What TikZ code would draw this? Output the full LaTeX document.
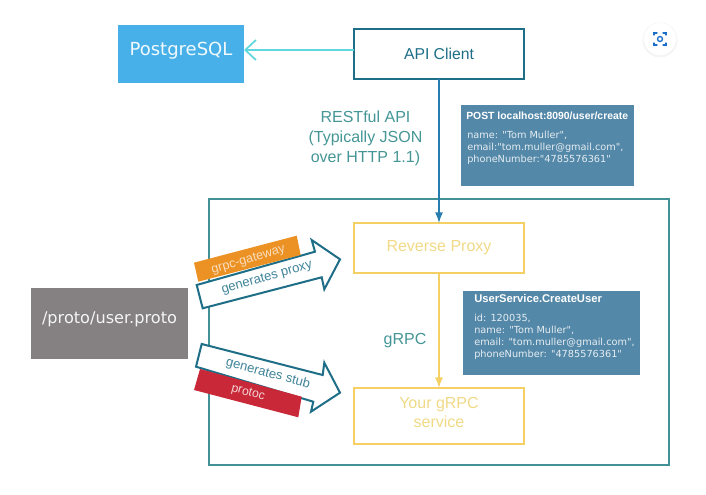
\documentclass[tikz,border=0pt]{standalone}
\usepackage{fontspec}
\setmainfont{Liberation Sans}
\newfontfamily\boxfont{DejaVu Sans}
\usetikzlibrary{positioning,arrows.meta,calc}
\definecolor{frame}{RGB}{30,110,135}
\definecolor{outline}{RGB}{65,145,150}
\definecolor{teal}{RGB}{70,150,150}
\definecolor{sky}{RGB}{72,176,232}
\definecolor{aqua}{RGB}{95,215,220}
\definecolor{link}{RGB}{40,125,175}
\definecolor{gold}{RGB}{244,208,100}
\definecolor{paleGold}{RGB}{240,218,135}
\definecolor{steel}{RGB}{84,136,168}
\definecolor{slate}{RGB}{133,128,129}
\definecolor{amber}{RGB}{236,145,35}
\definecolor{crimson}{RGB}{200,40,55}
\definecolor{camera}{RGB}{25,110,200}
\tikzset{
    pxbox/.style n args={2}{minimum width=#1*0.75pt,minimum height=#2*0.75pt,inner sep=0pt,outer sep=0pt},
    service/.style={draw=gold,line width=1.5pt},
    servicetext/.style={text=paleGold,font=\fontsize{12}{14.25}\selectfont,align=center},
    client/.style={draw=frame,line width=1.5pt,text=frame,font=\fontsize{11.8}{14}\selectfont},
    infobox/.style={fill=steel},
    infotext/.style={text=white!85!steel,font=\boxfont\fontsize{7.3}{9.2}\selectfont,align=left,anchor=north west,inner sep=0pt},
    infotitle/.style={text=white,font=\bfseries\fontsize{7.8}{9}\selectfont,anchor=north west,inner sep=0pt},
    genarrow/.style={draw=frame,fill=white,line width=1.5pt,line join=miter},
    arrowtext/.style={text=frame!85!white,inner sep=0pt,font=\fontsize{9.8}{11}\selectfont},
    tagtext/.style={inner sep=0pt,font=\fontsize{9.2}{11}\selectfont},
}
\begin{document}
\begin{tikzpicture}[x=0.75pt,y=-0.75pt]
    \useasboundingbox (0,0) rectangle (706,495);
    \fill[white] (0,0) rectangle (706,495);

    % Grand cadre
    \node[pxbox={460}{266},draw=outline,line width=1.3pt] (outer) at (439,332) {};

    % Boites
    \node[pxbox={126}{58},fill=sky] (postgres) at (181,54) {};
    \node[text=white!92!sky,font=\boxfont\fontsize{13.5}{16}\selectfont] (postgrestext) at (181,51) {PostgreSQL};
    \node[pxbox={170}{50},client] (api) at (439,54) {API Client};
    \node[pxbox={170}{50},service,servicetext] (proxy) at (439,248) {Reverse Proxy};
    \node[pxbox={170}{56},service] (grpc) at (439,416) {};
    \node[servicetext] (grpctext) at (439,412.5) {Your gRPC\\service};
    \node[pxbox={157}{71},fill=slate] (proto) at (109.5,323.5) {};
    \node[text=white!92!slate,font=\boxfont\fontsize{12.1}{15}\selectfont] (prototext) at (109.5,319) {/proto/user.proto};

    % Boites de messages
    \node[pxbox={173}{81},infobox] (post) at (547.5,145.5) {};
    \node[infotitle] (posttitle) at (466,112) {POST localhost:8090/user/create};
    \node[infotext] (postbody) at (467,130.5) {name: "Tom Muller",\\email:"tom.muller@gmail.com",\\phoneNumber:"4785576361"};
    \node[pxbox={177}{84},infobox] (user) at (551.5,333) {};
    \node[infotitle,font=\bfseries\fontsize{8.4}{10}\selectfont] (usertitle) at (474,294.5) {UserService.CreateUser};
    \node[infotext] (userbody) at (474,313.5) {id: 120035,\\name: "Tom Muller",\\email: "tom.muller@gmail.com",\\phoneNumber: "4785576361"};

    % Connecteurs
    \draw[-{Straight Barb[length=8pt,width=15pt]},aqua,line width=1.3pt] ([yshift=3pt]api.west) -- ([yshift=3pt]postgres.east);
    \draw[-{Latex[length=8pt,width=6pt]},link,line width=1.1pt] (api) -- (proxy);
    \draw[-{Latex[length=8pt,width=6pt]},gold,line width=1.1pt] (proxy) -- (grpc);

    % Labels
    \node[text=teal,font=\fontsize{12}{15}\selectfont,align=center] (rest) at (365.5,138) {RESTful API\\(Typically JSON\\over HTTP 1.1)};
    \node[text=teal,font=\fontsize{12}{14}\selectfont] (grpclabel) at (405,341) {gRPC};

    % Fleches generates
    \draw[genarrow] (196.7,285) -- (315,251.7) -- (311.7,240) -- (340,259.3) -- (324.3,289.3) -- (321.7,277.3) -- (202.7,308.3) -- cycle;
    \fill[amber] (194,262.7) -- (296.7,235.7) -- (300.7,255) -- (198.3,281.7) -- cycle;
    \node[arrowtext,rotate=16] (genproxy) at (267,278) {generates proxy};
    \node[tagtext,text=white!70!amber,font=\fontsize{9.5}{11}\selectfont,rotate=16] (gateway) at (248.5,260) {grpc-gateway};

    \draw[genarrow] (201.7,344) -- (322.7,375) -- (324.3,362.7) -- (340,392.7) -- (311,411.7) -- (313.3,401.7) -- (196,366.7) -- cycle;
    \fill[crimson] (200,369) -- (301.7,396.7) -- (298.3,417.3) -- (194,390) -- cycle;
    \node[arrowtext,rotate=-15] (genstub) at (268,373.5) {generates stub};
    \node[tagtext,text=white!80!crimson,rotate=-15] (protoc) at (248,393) {protoc};

    % Icone
    \fill[black,opacity=0.04] (660,40) circle (17.5);
    \node[circle,fill=white,minimum size=32*0.75pt,inner sep=0pt] (icon) at (660,39) {};
    \draw[camera,line width=1pt,line cap=round] (654,35) -- (654,33) -- (657,33) (663,33) -- (666,33) -- (666,35) (666,43) -- (666,45) -- (663,45) (657,45) -- (654,45) -- (654,43);
    \draw[camera,line width=1pt] (660,39) circle (2.5);
\end{tikzpicture}
\end{document}
